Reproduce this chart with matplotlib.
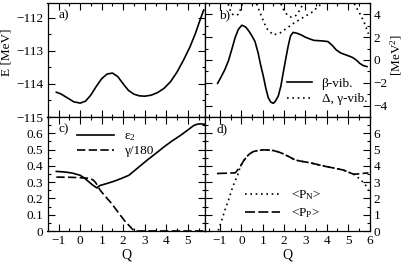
import matplotlib
matplotlib.use("Agg")
import matplotlib.pyplot as plt
from matplotlib.ticker import MultipleLocator, FixedLocator, FixedFormatter

plt.rcParams['font.family'] = ['Liberation Serif', 'DejaVu Serif']
plt.rcParams['mathtext.fontset'] = 'custom'
plt.rcParams['mathtext.rm'] = 'Liberation Serif'
plt.rcParams['mathtext.it'] = 'Liberation Serif:italic'
plt.rcParams['font.size'] = 9.5

# a) total energy
a_q = [-1.11, -0.9, -0.6, -0.3, 0.0, 0.25, 0.5, 0.75, 1.0, 1.25, 1.5, 1.75, 2.0, 2.25,
       2.5, 2.75, 3.0, 3.3, 3.6, 3.9, 4.2, 4.5, 4.8, 5.1, 5.35, 5.55, 5.74]
a_e = [-114.25, -114.30, -114.42, -114.54, -114.58, -114.52, -114.33, -114.07, -113.84,
       -113.70, -113.67, -113.78, -114.00, -114.20, -114.31, -114.36, -114.37, -114.34,
       -114.26, -114.13, -113.93, -113.64, -113.28, -112.88, -112.48, -112.10, -111.76]

# b) vibrational stiffness
beta_q = [-1.11, -0.95, -0.77, -0.6, -0.45, -0.3, -0.15, 0.02, 0.2, 0.35, 0.5, 0.64, 0.79,
          0.9, 1.03, 1.15, 1.26, 1.38, 1.5, 1.6, 1.73, 1.85, 1.96, 2.08, 2.19, 2.3, 2.42,
          2.6, 2.8, 3.0, 3.2, 3.4, 3.75, 4.05, 4.25, 4.45, 4.65, 4.92, 5.2, 5.38, 5.54,
          5.7, 5.88]
beta_v = [-2.05, -1.5, -0.84, -0.05, 0.9, 1.9, 2.65, 3.05, 2.9, 2.55, 2.1, 1.62, 0.6,
          -0.4, -1.42, -2.5, -3.3, -3.7, -3.8, -3.6, -3.16, -2.3, -1.13, 0.1, 1.19, 2.1,
          2.42, 2.35, 2.2, 2.0, 1.85, 1.72, 1.68, 1.62, 1.3, 0.87, 0.62, 0.43, 0.23,
          0.0, -0.29, -0.48, -0.58]
delta_q = [-0.7, -0.55, -0.45, -0.3, -0.15, -0.02, 0.1]
delta_v = [5.5, 4.5, 4.05, 3.9, 4.0, 4.5, 5.3]
gamma_q = [0.55, 0.7, 0.95, 1.18, 1.49, 1.8, 2.12, 2.43, 2.82, 3.28, 3.67, 3.85]
gamma_v = [5.6, 5.0, 3.8, 2.78, 2.2, 2.35, 2.78, 3.2, 3.65, 4.15, 4.8, 5.3]
gamma2_q = [1.75, 1.95, 2.15, 2.35, 2.55, 2.75, 2.95]
gamma2_v = [5.4, 4.5, 3.95, 3.75, 3.9, 4.4, 5.2]
gamma3_q = [5.15, 5.3, 5.45, 5.6, 5.75, 5.85, 5.95]
gamma3_v = [5.4, 4.9, 4.4, 3.9, 3.3, 2.8, 2.3]

# c) deformation
eps_q = [-1.11, -0.7, -0.38, 0.0, 0.2, 0.4, 0.6, 0.78, 0.85, 0.93, 1.2, 1.56, 1.9, 2.26,
         2.7, 3.1, 3.5, 3.88, 4.27, 4.66, 5.0, 5.28, 5.45, 5.6, 5.8]
eps_v = [0.366, 0.362, 0.356, 0.342, 0.325, 0.302, 0.28, 0.264, 0.274, 0.28, 0.29, 0.305,
         0.322, 0.342, 0.39, 0.434, 0.475, 0.515, 0.553, 0.587, 0.62, 0.648, 0.656, 0.658,
         0.655]
gam_q = [-1.11, -0.5, 0.0, 0.3, 0.48, 0.6, 0.7, 0.8, 0.93, 1.15, 1.4, 1.65, 1.87, 2.08,
         2.26, 2.4, 2.49, 2.6, 3.5, 4.5, 5.8]
gam_v = [0.331, 0.33, 0.327, 0.325, 0.321, 0.313, 0.30, 0.28, 0.25, 0.215, 0.178, 0.135,
         0.096, 0.06, 0.035, 0.015, 0.004, 0.0, 0.0, 0.0, 0.0]

# d) pairing
pp_q = [-1.14, -0.7, -0.28, -0.05, 0.1, 0.26, 0.4, 0.57, 0.8, 1.04, 1.3, 1.5, 1.75, 1.98,
        2.25, 2.52, 2.85, 3.22, 3.6, 4.0, 4.4, 4.78, 5.0, 5.25, 5.45, 5.64, 5.95]
pp_v = [3.53, 3.55, 3.57, 3.95, 4.3, 4.57, 4.75, 4.88, 4.95, 4.98, 4.97, 4.94, 4.85, 4.73,
        4.55, 4.36, 4.27, 4.19, 4.07, 3.95, 3.85, 3.74, 3.62, 3.49, 3.5, 3.53, 3.57]
pn_q = [-1.08, -0.92, -0.77, -0.6, -0.45, -0.3, -0.15, -0.05, 0.1, 0.26, 0.4, 0.57, 0.8,
        1.04, 1.3, 1.5, 1.75, 1.98, 2.25, 2.52, 2.85, 3.22, 3.6, 4.0, 4.4, 4.78, 5.0, 5.25,
        5.45, 5.6, 5.71, 5.85, 5.95]
pn_v = [0.03, 0.65, 1.27, 1.9, 2.52, 3.05, 3.5, 3.95, 4.3, 4.57, 4.75, 4.88, 4.95, 4.98,
        4.97, 4.94, 4.85, 4.73, 4.55, 4.36, 4.27, 4.19, 4.07, 3.95, 3.85, 3.74, 3.62, 3.49,
        3.3, 3.1, 3.0, 2.75, 2.55]

left_xticks = [-1, 0, 1, 2, 3, 4, 5]
right_xticks = [-1, 0, 1, 2, 3, 4, 5, 6]
a_yticks = [-115, -114, -113, -112]
b_yticks = [-4, -2, 0, 2, 4]
c_yticks = [0, 0.1, 0.2, 0.3, 0.4, 0.5, 0.6]
c_yticklabels = ['0', '0.1', '0.2', '0.3', '0.4', '0.5', '0.6']
d_yticks = [0, 1, 2, 3, 4, 5, 6]

W, H = 409, 264
fig = plt.figure(figsize=(W / 100, H / 100), dpi=100)


def box(x0, y0, x1, y1):
    return [x0 / W, 1 - y1 / H, (x1 - x0) / W, (y1 - y0) / H]


ax_a = fig.add_axes(box(47.5, 3, 205, 117))
ax_b = fig.add_axes(box(205, 3, 369.5, 117))
ax_c = fig.add_axes(box(47.5, 117, 205, 231))
ax_d = fig.add_axes(box(205, 117, 369.5, 231))

lw = 1.2
dash = (0, (5, 2))
dot = (0, (1, 2.2))

ax_a.plot(a_q, a_e, color='black', lw=lw)

ax_b.plot(beta_q, beta_v, color='black', lw=lw, label='β-vib.')
ax_b.plot(delta_q, delta_v, color='black', lw=lw, ls=dot, label='Δ, γ-vib.')
ax_b.plot(gamma_q, gamma_v, color='black', lw=lw, ls=dot)
ax_b.plot(gamma2_q, gamma2_v, color='black', lw=lw, ls=dot)
ax_b.plot(gamma3_q, gamma3_v, color='black', lw=lw, ls=dot)

ax_c.plot(eps_q, eps_v, color='black', lw=lw, label='ε$_2$')
ax_c.plot(gam_q, gam_v, color='black', lw=lw, ls=dash, label='γ/180')

ax_d.plot(pn_q, pn_v, color='black', lw=lw, ls=dot, label='<P$_\\mathregular{N}$>')
ax_d.plot(pp_q, pp_v, color='black', lw=lw, ls=(0, (6, 2)), label='<P$_\\mathregular{P}$>')

for ax in (ax_a, ax_c):
    ax.set_xlim(-1.52, 5.8)
    ax.xaxis.set_major_locator(FixedLocator(left_xticks))
for ax in (ax_b, ax_d):
    ax.set_xlim(-1.7, 6)
    ax.xaxis.set_major_locator(FixedLocator(right_xticks))

ax_a.set_ylim(-115, -111.55)
ax_a.yaxis.set_major_locator(FixedLocator(a_yticks))
ax_a.yaxis.set_minor_locator(MultipleLocator(0.5))
ax_b.set_ylim(-5, 5)
ax_b.yaxis.set_major_locator(FixedLocator(b_yticks))
ax_b.yaxis.set_minor_locator(MultipleLocator(1))
ax_c.set_ylim(0, 0.7)
ax_c.yaxis.set_major_locator(FixedLocator(c_yticks))
ax_c.yaxis.set_major_formatter(FixedFormatter(c_yticklabels))
ax_c.yaxis.set_minor_locator(MultipleLocator(0.05))
ax_d.set_ylim(0, 7)
ax_d.yaxis.set_major_locator(FixedLocator(d_yticks))
ax_d.yaxis.set_minor_locator(MultipleLocator(0.5))

for ax in (ax_a, ax_b, ax_c, ax_d):
    ax.xaxis.set_minor_locator(MultipleLocator(0.5))
    ax.tick_params(which='both', direction='in', top=True, right=True, left=True,
                   bottom=True, width=0.8, labelsize=9.5, pad=3)
    ax.tick_params(which='major', length=5)
    ax.tick_params(which='minor', length=2.5)
    for s in ax.spines.values():
        s.set_linewidth(0.9)

ax_a.tick_params(labelbottom=False)
ax_b.tick_params(labelbottom=False, labelleft=False, labelright=True)
ax_d.tick_params(labelleft=False, labelright=True)

ax_c.set_xlabel('Q', fontsize=10, labelpad=1)
ax_d.set_xlabel('Q', fontsize=10, labelpad=1)

fig.text(7 / W, 1 - 52 / H, 'E [MeV]', rotation=90, ha='center', va='center', fontsize=9.5)
fig.text(396 / W, 1 - 55 / H, '[MeV$^2$]', rotation=90, ha='center', va='center', fontsize=9.5)

for ax, lab, x in ((ax_a, 'a)', 0.07), (ax_b, 'b)', 0.085), (ax_c, 'c)', 0.07), (ax_d, 'd)', 0.07)):
    ax.text(x, 0.895, lab, transform=ax.transAxes, ha='left', va='center', fontsize=9.5)

ax_b.legend(loc='upper left', bbox_to_anchor=(0.5, 0.345), frameon=False, borderpad=0,
            handlelength=1.9, handletextpad=0.7, labelspacing=0.25, borderaxespad=0,
            fontsize=9.5)
ax_c.legend(loc='upper left', bbox_to_anchor=(0.19, 0.885), frameon=False, borderpad=0,
            handlelength=2.8, handletextpad=0.7, labelspacing=0.15, borderaxespad=0,
            fontsize=9.5)
ax_d.legend(loc='upper left', bbox_to_anchor=(0.245, 0.375), frameon=False, borderpad=0,
            handlelength=2.65, handletextpad=0.8, labelspacing=0.35, borderaxespad=0,
            fontsize=9.5)

fig.savefig('out.png', dpi=100)
